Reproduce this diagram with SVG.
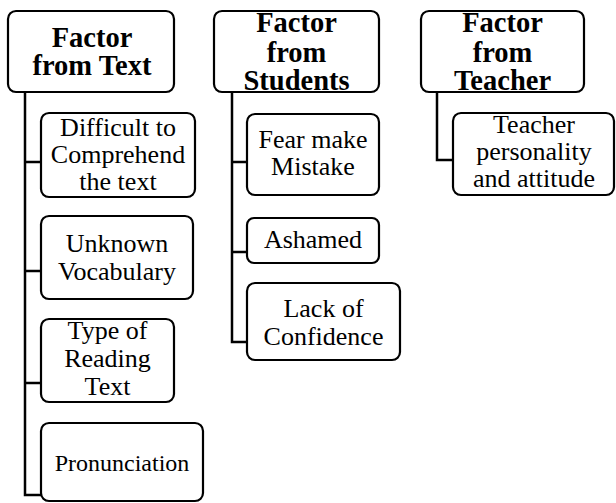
<svg xmlns="http://www.w3.org/2000/svg" width="616" height="503" viewBox="0 0 616 503">
<style>
rect{fill:#fff;stroke:#000;stroke-width:2.2}
.c{fill:none;stroke:#000;stroke-width:2.5}
text{fill:#000;text-anchor:middle}
.h{font-weight:bold;font-size:28.5px}
.t{font-size:26px}
</style>
<rect x="0" y="0" width="616" height="503" style="stroke:none"/>
<g id="connectors">
<path class="c" d="M25,92 V495 H41 M25,162 H41 M25,271 H41 M25,383 H41"/>
<path class="c" d="M232,92 V342 H247 M232,162 H247 M232,252 H247"/>
<path class="c" d="M437,92 V160 H453"/>
</g>
<g font-family="Liberation Serif, DejaVu Serif, serif">
<g id="n-text">
<rect x="8" y="11" width="166" height="81" rx="8"/>
<text class="h" x="92" y="47">Factor</text>
<text class="h" x="92" y="75">from Text</text>
</g>
<g id="n-difficult">
<rect x="41" y="113" width="154" height="84" rx="8"/>
<text class="t" x="118" y="136">Difficult to</text>
<text class="t" x="118" y="163">Comprehend</text>
<text class="t" x="118" y="190">the text</text>
</g>
<g id="n-unknown">
<rect x="41" y="216" width="152" height="83" rx="8"/>
<text class="t" x="117" y="252">Unknown</text>
<text class="t" x="117" y="280">Vocabulary</text>
</g>
<g id="n-type">
<rect x="41" y="319" width="133" height="83" rx="8"/>
<text class="t" x="107.5" y="339">Type of</text>
<text class="t" x="107.5" y="367">Reading</text>
<text class="t" x="107.5" y="395">Text</text>
</g>
<g id="n-pron">
<rect x="41" y="423" width="162" height="78" rx="8"/>
<text class="t" x="122" y="471" style="font-size:24px">Pronunciation</text>
</g>
<g id="n-students">
<rect x="214" y="11" width="165" height="81" rx="8"/>
<text class="h" x="296.5" y="32">Factor</text>
<text class="h" x="296.5" y="62">from</text>
<text class="h" x="296.5" y="90">Students</text>
</g>
<g id="n-fear">
<rect x="247" y="114" width="132" height="81" rx="8"/>
<text class="t" x="313" y="148">Fear make</text>
<text class="t" x="313" y="175">Mistake</text>
</g>
<g id="n-ashamed">
<rect x="247" y="218" width="132" height="45" rx="7"/>
<text class="t" x="313" y="248">Ashamed</text>
</g>
<g id="n-lack">
<rect x="247" y="283" width="153" height="77" rx="8"/>
<text class="t" x="323.5" y="317">Lack of</text>
<text class="t" x="323.5" y="345">Confidence</text>
</g>
<g id="n-teacher">
<rect x="421" y="11" width="163" height="81" rx="8"/>
<text class="h" x="502.5" y="32">Factor</text>
<text class="h" x="502.5" y="62">from</text>
<text class="h" x="502.5" y="90">Teacher</text>
</g>
<g id="n-personality">
<rect x="453" y="113" width="161" height="82" rx="8"/>
<text class="t" x="534" y="133">Teacher</text>
<text class="t" x="534" y="160">personality</text>
<text class="t" x="534" y="187">and attitude</text>
</g>
</g>
</svg>
